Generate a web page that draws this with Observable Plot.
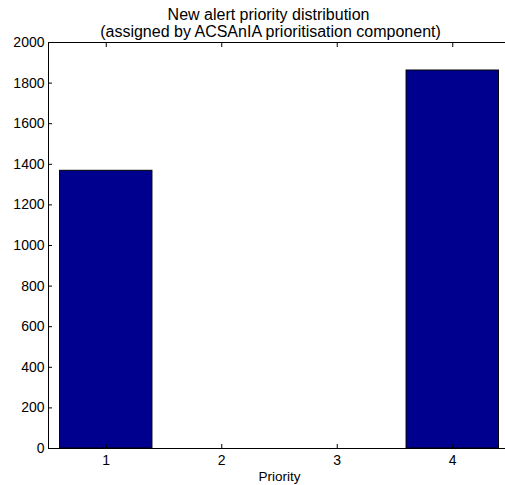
<!DOCTYPE html>
<html><head><meta charset="utf-8">
<script src="https://cdn.jsdelivr.net/npm/d3@7"></script>
<script src="https://cdn.jsdelivr.net/npm/@observablehq/plot@0.6"></script>
<style>html,body{margin:0;padding:0;background:#fff;overflow:hidden} svg{display:block}</style>
</head><body><div id="chart"></div>
<script>
const priorities = [1, 2, 3, 4];
const counts = [1368, 0, 0, 1862];
const yTicks = [0, 200, 400, 600, 800, 1000, 1200, 1400, 1600, 1800, 2000];
const titleLine1 = "New alert priority distribution";
const titleLine2 = "(assigned by ACSAnIA prioritisation component)";
const xLabel = "Priority";

const data = priorities.map((p, i) => ({priority: p, count: counts[i]}));
const font = "'Liberation Sans', Arial, Helvetica, sans-serif";

const plot = Plot.plot({
  width: 505, height: 485,
  marginLeft: 48, marginRight: -5, marginTop: 42, marginBottom: 37,
  style: {fontFamily: font, fontSize: "14px", background: "#fff", color: "#000"},
  x: {domain: [0.5, 4.5]},
  y: {domain: [0, 2000]},
  marks: [
    Plot.rectY(data, {x1: d => d.priority - 0.4, x2: d => d.priority + 0.4, y1: 0, y2: "count", fill: "#00008f", stroke: "#000", strokeWidth: 1}),
    Plot.frame({stroke: "#000", strokeWidth: 1}),
    Plot.axisY(yTicks, {tickSize: -4, fill: "none", label: null}),
    Plot.axisY(yTicks, {tickSize: 0, tickPadding: 4, label: null, fontSize: 14, tickFormat: d3.format("d")}),
    Plot.axisX(priorities, {anchor: "bottom", tickSize: -4, fill: "none", label: null}),
    Plot.axisX(priorities, {anchor: "top", tickSize: -4, fill: "none", label: null}),
    Plot.axisX(priorities, {anchor: "bottom", tickSize: 0, tickPadding: 7, label: null, fontSize: 14, tickFormat: d3.format("d")}),
    Plot.text([xLabel], {frameAnchor: "bottom", lineAnchor: "bottom", dy: 32.5, fontSize: 13.5}),
    Plot.text([titleLine1], {frameAnchor: "top-left", textAnchor: "middle", lineAnchor: "bottom", dx: 220, dy: -23, fontSize: 16}),
    Plot.text([titleLine2], {frameAnchor: "top-left", textAnchor: "middle", lineAnchor: "bottom", dx: 222, dy: -6, fontSize: 16})
  ]
});
document.getElementById("chart").appendChild(plot);
</script>
</body></html>
